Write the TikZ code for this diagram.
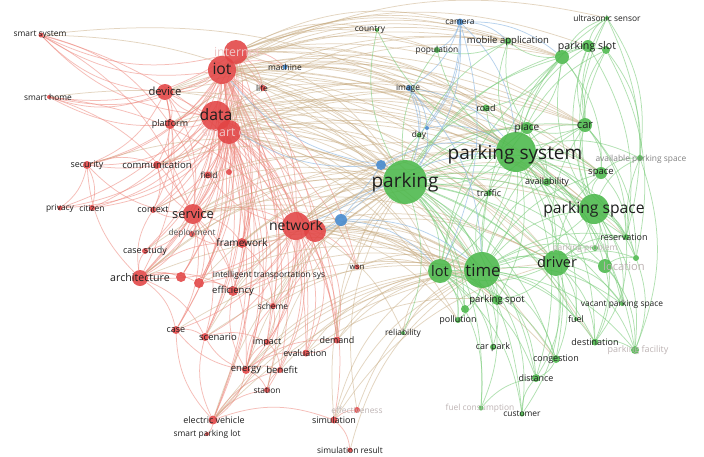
\documentclass[tikz,border=0pt]{standalone}
\usepackage{fontspec}
\setmainfont{Open Sans}
\definecolor{vred}{RGB}{226,68,68}
\definecolor{vgreen}{RGB}{74,184,74}
\definecolor{vblue}{RGB}{72,140,208}
\definecolor{eRc}{RGB}{238,135,125}
\definecolor{eGc}{RGB}{125,205,125}
\definecolor{eXc}{RGB}{200,172,130}
\definecolor{eBc}{RGB}{135,180,225}
\definecolor{labc}{RGB}{30,30,30}
\definecolor{fadc}{RGB}{190,180,180}
\definecolor{fadr}{RGB}{240,200,200}
\pgfdeclarelayer{bg}
\pgfdeclarelayer{edges}
\pgfsetlayers{bg,edges,main}
\tikzset{
  nR/.style={circle,inner sep=0pt,draw=none,fill=vred,fill opacity=0.88,minimum size=#1pt},
  nG/.style={circle,inner sep=0pt,draw=none,fill=vgreen,fill opacity=0.88,minimum size=#1pt},
  nB/.style={circle,inner sep=0pt,draw=none,fill=vblue,fill opacity=0.9,minimum size=#1pt},
  lab/.style={text=labc,inner sep=0pt,font=\fontsize{\fpeval{#1*1.12}pt}{\fpeval{#1*1.12}pt}\selectfont},
  lab/.default=8,
  fad/.style={lab=#1,text=fadc},
  fad/.default=8,
  eR/.style={draw=eRc,line width=0.75pt,opacity=0.55},
  eG/.style={draw=eGc,line width=0.75pt,opacity=0.6},
  eX/.style={draw=eXc,line width=0.75pt,opacity=0.5},
  eB/.style={draw=eBc,line width=0.75pt,opacity=0.6},
  bb/.style={bend left=20}
}
\begin{document}
\begin{tikzpicture}[x=1pt,y=-1pt]
\useasboundingbox (0,0) rectangle (704,456);
\begin{pgfonlayer}{bg}
\fill[white] (0,0) rectangle (704,456);
\end{pgfonlayer}
% ---------- red cluster nodes
\node[nR=5] (smartsystem) at (41,35) {};
\node[nR=4] (smarthome) at (49,97) {};
\node[nR=16] (device) at (165,92) {};
\node[nR=24] (internet) at (236,52) {};
\node[nR=28] (iot) at (222,70) {};
\node[nR=30] (data) at (216,116) {};
\node[nR=24] (smartcity) at (229,132) {};
\node[nR=10] (platform) at (170,124) {};
\node[nB=5] (machine) at (285,67) {};
\node[nR=6] (life) at (263,88) {};
\node[nR=8] (security) at (87,165) {};
\node[nR=8] (communication) at (157,165) {};
\node[nR=7] (field) at (208,175) {};
\node[nR=6] (ctr1) at (229,172) {};
\node[nR=5] (privacy) at (60,208) {};
\node[nR=6] (citizen) at (92,208) {};
\node[nR=6] (context) at (153,210) {};
\node[nR=20] (service) at (193,214) {};
\node[nR=6] (deployment) at (192,234) {};
\node[nR=10] (framework) at (242,243) {};
\node[nR=6] (casestudy) at (145,251) {};
\node[nR=16] (architecture) at (140,278) {};
\node[nR=10] (arch2) at (181,277) {};
\node[nR=10] (its) at (199,283) {};
\node[nR=10] (efficiency) at (233,291) {};
\node[nR=22] (network2) at (315,231) {};
\node[nR=28] (network) at (296,226) {};
\node[nB=12] (blueA) at (341,220) {};
\node[nB=10] (blueB) at (381,165) {};
\node[nR=5] (wsn) at (357,267) {};
\node[nR=6] (scheme) at (273,306) {};
\node[nR=8] (case) at (176,330) {};
\node[nR=8] (scenario) at (205,337) {};
\node[nR=6] (impact) at (267,342) {};
\node[nR=7] (evaluation) at (306,353) {};
\node[nR=7] (demand) at (337,340) {};
\node[nR=8] (energy) at (246,370) {};
\node[nR=6] (benefit) at (280,370) {};
\node[nR=6] (station) at (267,390) {};
\node[nR=9] (electric) at (213,420) {};
\node[nR=4] (smartlot) at (207,434) {};
\node[nR=7] (simulation) at (334,420) {};
\node[nR=6] (effect) at (357,410) {};
\node[nR=5] (simresult) at (350,450) {};
% ---------- blue / green nodes
\node[nG=4] (reliability) at (403,333) {};
\node[nG=4] (country) at (377,30) {};
\node[nB=7] (camera) at (460,22) {};
\node[nB=6] (image) at (409,88) {};
\node[nG=5] (day) at (419,135) {};
\node[nB=4] (blueC) at (427,128) {};
\node[nG=6] (population) at (437,50) {};
\node[nG=7] (mobile) at (508,41) {};
\node[nG=4] (ultrasonic) at (607,18) {};
\node[nG=14] (ps1) at (562,57) {};
\node[nG=12] (ps2) at (588,46) {};
\node[nG=8] (ps3) at (606,50) {};
\node[nG=7] (road) at (486,108) {};
\node[nG=12] (place) at (527,128) {};
\node[nG=14] (car) at (585,125) {};
\node[nG=40] (parkingsystem) at (516,152) {};
\node[nG=6] (avail) at (640,158) {};
\node[nG=12] (space) at (601,173) {};
\node[nG=8] (availability) at (547,182) {};
\node[nG=6] (traffic) at (489,193) {};
\node[nG=44] (parking) at (405,182) {};
\node[nG=30] (parkingspace) at (594,209) {};
\node[nG=6] (reservation) at (626,237) {};
\node[nG=6] (problem) at (595,248) {};
\node[nG=26] (driver) at (556,263) {};
\node[nG=14] (location) at (605,266) {};
\node[nG=6] (small) at (636,258) {};
\node[nG=24] (lot) at (440,271) {};
\node[nG=36] (time) at (482,270) {};
\node[nG=10] (parkingspot) at (497,300) {};
\node[nG=8] (spot2) at (465,309) {};
\node[nG=6] (pollution) at (458,320) {};
\node[nG=6] (carpark) at (493,347) {};
\node[nG=4] (vacant) at (622,304) {};
\node[nG=4] (fuel) at (576,319) {};
\node[nG=7] (destination) at (595,342) {};
\node[nG=8] (facility) at (635,350) {};
\node[nG=8] (congestion) at (556,359) {};
\node[nG=8] (distance) at (536,378) {};
\node[nG=5] (fuelcons) at (481,408) {};
\node[nG=5] (customer) at (522,414) {};
% ---------- edges
\begin{pgfonlayer}{edges}
% red-red
\foreach \b in {device,data,smartcity,internet,platform,security,communication,service,network,network2,architecture,framework,smartsystem,smarthome,life,machine,context,field,efficiency,energy,case,scenario,electric,citizen,scheme,demand,deployment,casestudy,its,impact,privacy,arch2,evaluation,benefit,station,wsn}
  \draw[eR] (iot) to[bb] (\b);
\foreach \b in {device,platform,service,network,network2,communication,security,framework,architecture,smartcity,context,casestudy,energy,evaluation,impact,privacy,field,scenario,efficiency,wsn,ctr1,smartsystem,smarthome,citizen,case,electric,demand,its,arch2}
  \draw[eR] (data) to[bb] (\b);
\foreach \b in {device,smartcity,platform,service,network,smartsystem,smarthome,security,life,machine,communication,architecture,framework,data}
  \draw[eR] (internet) to[bb] (\b);
\foreach \b in {service,network,citizen,communication,framework,architecture,energy,electric,scenario,efficiency,ctr1,security,privacy,context,its,demand}
  \draw[eR] (smartcity) to[bb] (\b);
\foreach \b in {network,architecture,framework,deployment,context,communication,casestudy,scenario,case,platform,arch2,its,efficiency,energy,security}
  \draw[eR] (service) to[bb] (\b);
\foreach \b in {framework,efficiency,scheme,wsn,energy,impact,demand,evaluation,its,architecture,field,case,scenario,station,electric,benefit,simulation}
  \draw[eR] (network) to[bb] (\b);
\foreach \b in {smartsystem,smarthome,platform,security,communication,architecture,service,network,context}
  \draw[eR] (device) to[bb] (\b);
\foreach \b in {electric,benefit,station,scenario,impact,evaluation,demand,efficiency,scheme,case}
  \draw[eR] (energy) to[bb] (\b);
\foreach \b in {scenario,smartlot,simulation,station,case,benefit}
  \draw[eR] (electric) to[bb] (\b);
\foreach \b in {case,scenario,efficiency,its,casestudy,arch2,context,security,framework}
  \draw[eR] (architecture) to[bb] (\b);
\foreach \a/\b in {security/privacy,security/citizen,communication/context,framework/efficiency,efficiency/scheme,impact/benefit,demand/evaluation,simulation/effect,simulation/simresult,case/scenario,station/benefit,network2/demand,network2/scheme,smartsystem/platform,smarthome/service,security/communication,its/efficiency,scheme/impact,smartsystem/service,smartsystem/network,smarthome/network,platform/service,framework/scheme,scenario/impact,network2/efficiency,network2/evaluation,framework/deployment}
  \draw[eR] (\a) to[bb] (\b);
% cross-cluster
\foreach \b in {parking,parkingsystem,parkingspace,time,lot,driver,car,place,traffic,ps1,road,space,mobile,population,camera,ultrasonic,country,availability,reservation,destination}
  \draw[eX] (iot) to[bb] (\b);
\foreach \b in {parking,parkingsystem,time,lot,driver,parkingspace,availability,place,road,traffic,car,ps1,mobile,space}
  \draw[eX] (data) to[bb] (\b);
\foreach \b in {parking,parkingsystem,ps1,country,mobile,population,place,car,camera,ps2,road,space}
  \draw[eX] (internet) to[bb] (\b);
\foreach \b in {parking,parkingsystem,parkingspace,driver,time,traffic,lot,congestion,place,car,road,pollution}
  \draw[eX] (smartcity) to[bb] (\b);
\foreach \b in {parking,parkingsystem,time,lot,driver,parkingspace,car,traffic,availability,pollution,reliability,place,space,parkingspot,congestion}
  \draw[eX] (network) to[bb] (\b);
\foreach \a/\b in {network2/parking,network2/time,network2/lot,network2/parkingspot,network2/driver,service/parking,service/parkingsystem,service/time,service/parkingspace,service/driver,service/lot,device/parking,device/parkingsystem,device/car,device/image,device/ps1,platform/parking,platform/parkingsystem,platform/mobile,architecture/parking,architecture/time,architecture/parkingsystem,framework/parking,framework/time,framework/lot,framework/parkingsystem,efficiency/parking,efficiency/time,energy/parking,energy/lot,energy/time,electric/parking,electric/time,electric/driver,electric/lot,scenario/parking,scenario/time,simulation/parking,simulation/time,simulation/lot,simulation/driver,effect/parking,effect/time,simresult/time,demand/parking,demand/time,demand/lot,evaluation/lot,evaluation/parkingspot,wsn/parking,wsn/lot,wsn/time,its/parking,its/time,life/parking,life/parkingsystem,communication/parkingsystem,communication/parking,scheme/parking,scheme/time,impact/parking,benefit/time,station/parking,machine/image,machine/parkingsystem,smartsystem/parkingsystem,smartsystem/parking,smarthome/parking,security/parking,case/time,context/parking,field/parking,ctr1/parking,reliability/time,reliability/lot,casestudy/parking,deployment/parking}
  \draw[eX] (\a) to[bb] (\b);
% green-green
\foreach \b in {parking,parkingspace,time,lot,driver,car,place,road,traffic,availability,space,ps1,ps2,ps3,mobile,ultrasonic,avail,reservation,population,day,country,location,problem,vacant,parkingspot,destination,fuel,congestion,distance,facility,small}
  \draw[eG] (parkingsystem) to[bb] (\b);
\foreach \b in {time,lot,driver,parkingspace,car,place,road,traffic,ps1,ps2,mobile,population,pollution,parkingspot,congestion,distance,fuel,destination,reliability,carpark,customer,fuelcons,country,availability,space,location,reservation,vacant,spot2,day}
  \draw[eG] (parking) to[bb] (\b);
\foreach \b in {lot,driver,parkingspace,parkingspot,pollution,congestion,distance,fuel,destination,vacant,carpark,customer,fuelcons,location,reservation,space,car,availability,ps1,place,spot2,facility,problem,traffic}
  \draw[eG] (time) to[bb] (\b);
\foreach \b in {driver,space,reservation,problem,location,vacant,avail,car,ps1,ps2,ps3,facility,destination,small,place,availability,lot,ultrasonic}
  \draw[eG] (parkingspace) to[bb] (\b);
\foreach \b in {location,congestion,destination,fuel,facility,vacant,distance,lot,parkingspot,problem,car,small,reservation,space,customer}
  \draw[eG] (driver) to[bb] (\b);
\foreach \b in {parkingspot,pollution,carpark,customer,distance,ps1,car,place,spot2,fuelcons,congestion}
  \draw[eG] (lot) to[bb] (\b);
\foreach \b in {ultrasonic,ps2,ps3,car,mobile,space,place,road}
  \draw[eG] (ps1) to[bb] (\b);
\foreach \a/\b in {car/space,car/place,car/ultrasonic,car/ps3,car/ps2,car/small,car/reservation,place/road,place/availability,place/mobile,location/small,location/facility,location/destination,location/vacant,spot2/pollution,congestion/distance,destination/facility,fuelcons/distance,customer/distance,small/avail,space/avail,ps2/ultrasonic,mobile/population,space/reservation,ultrasonic/avail,ultrasonic/reservation,ps3/small,ps3/avail,ps2/reservation,avail/facility,small/facility,reservation/destination}
  \draw[eG] (\a) to[bb] (\b);
% blue
\foreach \a/\b in {camera/image,camera/parkingsystem,camera/parking,camera/population,camera/day,camera/ps1,camera/mobile,camera/blueC,image/parking,image/day,image/blueC,image/parkingsystem,blueC/parking,blueC/parkingsystem,blueB/parking,blueB/network,blueB/iot,blueB/data,blueB/parkingsystem,blueA/network,blueA/parking,blueA/network2,blueA/time,blueA/lot,blueA/parkingsystem,image/time,camera/lot}
  \draw[eB] (\a) to[bb] (\b);
\end{pgfonlayer}
% ---------- labels
\node[lab=7.5] (Lsmartsystem) at (40,35) {smart system};
\node[lab=7.5] (Lsmarthome) at (48,97) {smart home};
\node[lab=10] (Ldevice) at (165,91) {device};
\node[fad=11,text=fadr] (Linternet) at (237,52) {internet};
\node[lab=14] (Liot) at (222,69) {iot};
\node[lab=14] (Ldata) at (216,115) {data};
\node[fad=11,text=fadr] (Lsmartcity) at (230,133) {smart city};
\node[lab=8] (Lplatform) at (170,124) {platform};
\node[lab=7.5] (Lmachine) at (285,67) {machine};
\node[lab=7.5] (Llife) at (262,88) {life};
\node[lab=8] (Lsecurity) at (87,165) {security};
\node[lab=8.5] (Lcommunication) at (157,165) {communication};
\node[lab=7.5] (Lfield) at (209,175) {field};
\node[lab=7.5] (Lprivacy) at (60,208) {privacy};
\node[lab=7.5] (Lcitizen) at (92,208) {citizen};
\node[lab=8] (Lcontext) at (153,210) {context};
\node[lab=11.5] (Lservice) at (193,214) {service};
\node[lab=7.5,text=labc!75] (Ldeployment) at (192,233) {deployment};
\node[lab=9] (Lframework) at (242,243) {framework};
\node[lab=8] (Lcasestudy) at (145,251) {case study};
\node[lab=9.5] (Larchitecture) at (140,278) {architecture};
\node[lab=7.5] (Lits) at (269,275) {intelligent transportation sys};
\node[lab=8.5] (Lefficiency) at (233,291) {efficiency};
\node[lab=12.5] (Lnetwork) at (296,225) {network};
\node[lab=7] (Lwsn) at (357,267) {wsn};
\node[lab=7.5] (Lscheme) at (273,306) {scheme};
\node[lab=8] (Lcase) at (176,330) {case};
\node[lab=8.5] (Lscenario) at (218,337) {scenario};
\node[lab=8] (Limpact) at (267,342) {impact};
\node[lab=8] (Levaluation) at (305,353) {evaluation};
\node[lab=8] (Ldemand) at (337,340) {demand};
\node[lab=8.5] (Lenergy) at (246,370) {energy};
\node[lab=8.5] (Lbenefit) at (282,370) {benefit};
\node[lab=7.5] (Lstation) at (267,390) {station};
\node[lab=8] (Lelectric) at (214,420) {electric vehicle};
\node[lab=7.5] (Lsmartlot) at (207,434) {smart parking lot};
\node[lab=8] (Lsimulation) at (334,420) {simulation};
\node[fad=7.5] (Leffect) at (357,410) {effectiveness};
\node[lab=7.5] (Lsimresult) at (350,450) {simulation result};
\node[lab=7.5] (Lreliability) at (403,333) {reliability};
\node[lab=7.5] (Lcountry) at (370,30) {country};
\node[lab=7.5] (Lcamera) at (460,22) {camera};
\node[lab=7.5] (Limage) at (408,88) {image};
\node[lab=7.5] (Lday) at (419,135) {day};
\node[lab=7.5] (Lpopulation) at (437,50) {population};
\node[lab=8.5] (Lmobile) at (508,41) {mobile application};
\node[lab=7.5] (Lultrasonic) at (607,18) {ultrasonic sensor};
\node[lab=9.5] (Lps) at (587,47) {parking slot};
\node[lab=8] (Lroad) at (486,108) {road};
\node[lab=9] (Lplace) at (527,128) {place};
\node[lab=10] (Lcar) at (585,125) {car};
\node[lab=17] (Lparkingsystem) at (515,155) {parking system};
\node[fad=7.5,text=labc!55] (Lavail) at (641,159) {available parking space};
\node[lab=8.5] (Lspace) at (601,173) {space};
\node[lab=8] (Lavailability) at (547,182) {availability};
\node[lab=8] (Ltraffic) at (489,193) {traffic};
\node[lab=17] (Lparking) at (405,183) {parking};
\node[lab=14] (Lparkingspace) at (594,209) {parking space};
\node[lab=8] (Lreservation) at (624,237) {reservation};
\node[fad=7.5] (Lproblem) at (585,248) {parking problem};
\node[lab=13] (Ldriver) at (557,262) {driver};
\node[fad=10] (Llocation) at (624,266) {location};
\node[lab=13] (Llot) at (440,271) {lot};
\node[lab=15] (Ltime) at (483,270) {time};
\node[lab=8.5] (Lparkingspot) at (497,300) {parking spot};
\node[lab=8] (Lpollution) at (458,320) {pollution};
\node[lab=8] (Lcarpark) at (493,347) {car park};
\node[lab=7.5] (Lvacant) at (622,304) {vacant parking space};
\node[lab=8] (Lfuel) at (576,319) {fuel};
\node[lab=8] (Ldestination) at (595,342) {destination};
\node[fad=8] (Lfacility) at (638,350) {parking facility};
\node[lab=8] (Lcongestion) at (556,359) {congestion};
\node[lab=8] (Ldistance) at (536,378) {distance};
\node[fad=7.5] (Lfuelcons) at (480,408) {fuel consumption};
\node[lab=7.5] (Lcustomer) at (522,414) {customer};
\end{tikzpicture}
\end{document}
